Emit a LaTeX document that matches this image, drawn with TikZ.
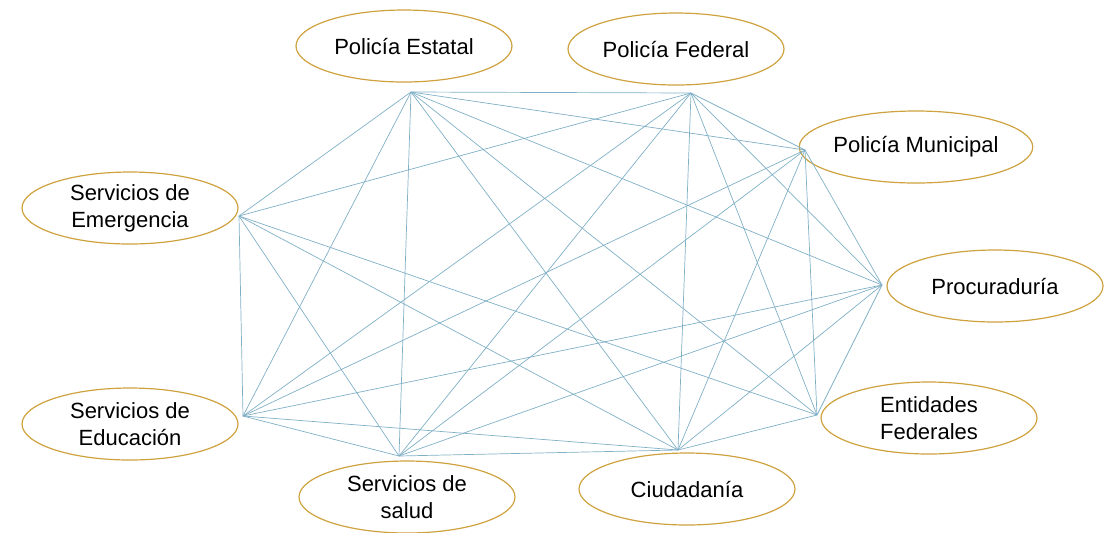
\documentclass[tikz,border=0pt]{standalone}
\usepackage{fontspec}
\setmainfont{Liberation Sans}
\usepackage{xcolor}
\usetikzlibrary{shapes.geometric}

\definecolor{linkblue}{RGB}{128,176,198}
\definecolor{ringgold}{RGB}{206,162,62}

\begin{document}
\begin{tikzpicture}[x=0.5pt, y=-0.5pt,
                actor node/.style={ellipse, draw=ringgold, line width=0.6pt,
                  minimum width=108pt, minimum height=36pt, inner sep=0pt,
                  align=center, font=\fontsize{11}{13.5}\selectfont},
                link/.style={draw=linkblue, line width=0.35pt}]

  \useasboundingbox (0,0) rectangle (1115,532);

  % actors
  \node[actor node] (estatal)    at (404,46)  {Policía Estatal};
  \node[actor node] (federal)    at (676,49)  {Policía Federal};
  \node[actor node] (municipal)  at (916,147) {Policía Municipal};
  \node[actor node] (emergencia) at (130,208) {Servicios de\\Emergencia};
  \node[actor node] (procu)      at (995,286) {Procuraduría};
  \node[actor node] (entidades)  at (929,418) {Entidades\\Federales};
  \node[actor node] (educacion)  at (130,424) {Servicios de\\Educación};
  \node[actor node] (salud)      at (407,497) {Servicios de\\salud};
  \node[actor node] (ciudadania) at (687,489) {Ciudadanía};

  % meeting points of the links
  \coordinate (h1) at (411,92);
  \coordinate (h2) at (691,93);
  \coordinate (h3) at (805,150);
  \coordinate (h4) at (882,285);
  \coordinate (h5) at (817,415);
  \coordinate (h6) at (678,450);
  \coordinate (h7) at (399,456);
  \coordinate (h8) at (243,416);
  \coordinate (h9) at (239,216);

  \path[link]
    (h1) edge (h2) (h1) edge (h3) (h1) edge (h4) (h1) edge (h5)
    (h1) edge (h6) (h1) edge (h7) (h1) edge (h8) (h1) edge (h9)
    (h2) edge (h3) (h2) edge (h4) (h2) edge (h5) (h2) edge (h6)
    (h2) edge (h7) (h2) edge (h8) (h2) edge (h9)
    (h3) edge (h4) (h3) edge (h5) (h3) edge (h6) (h3) edge (h7)
    (h3) edge (h8)
    (h4) edge (h5) (h4) edge (h6) (h4) edge (h7) (h4) edge (h8)
    (h5) edge (h6) (h5) edge (h9)
    (h6) edge (h7) (h6) edge (h8) (h6) edge (h9)
    (h7) edge (h8) (h7) edge (h9)
    (h8) edge (h9);
\end{tikzpicture}
\end{document}
